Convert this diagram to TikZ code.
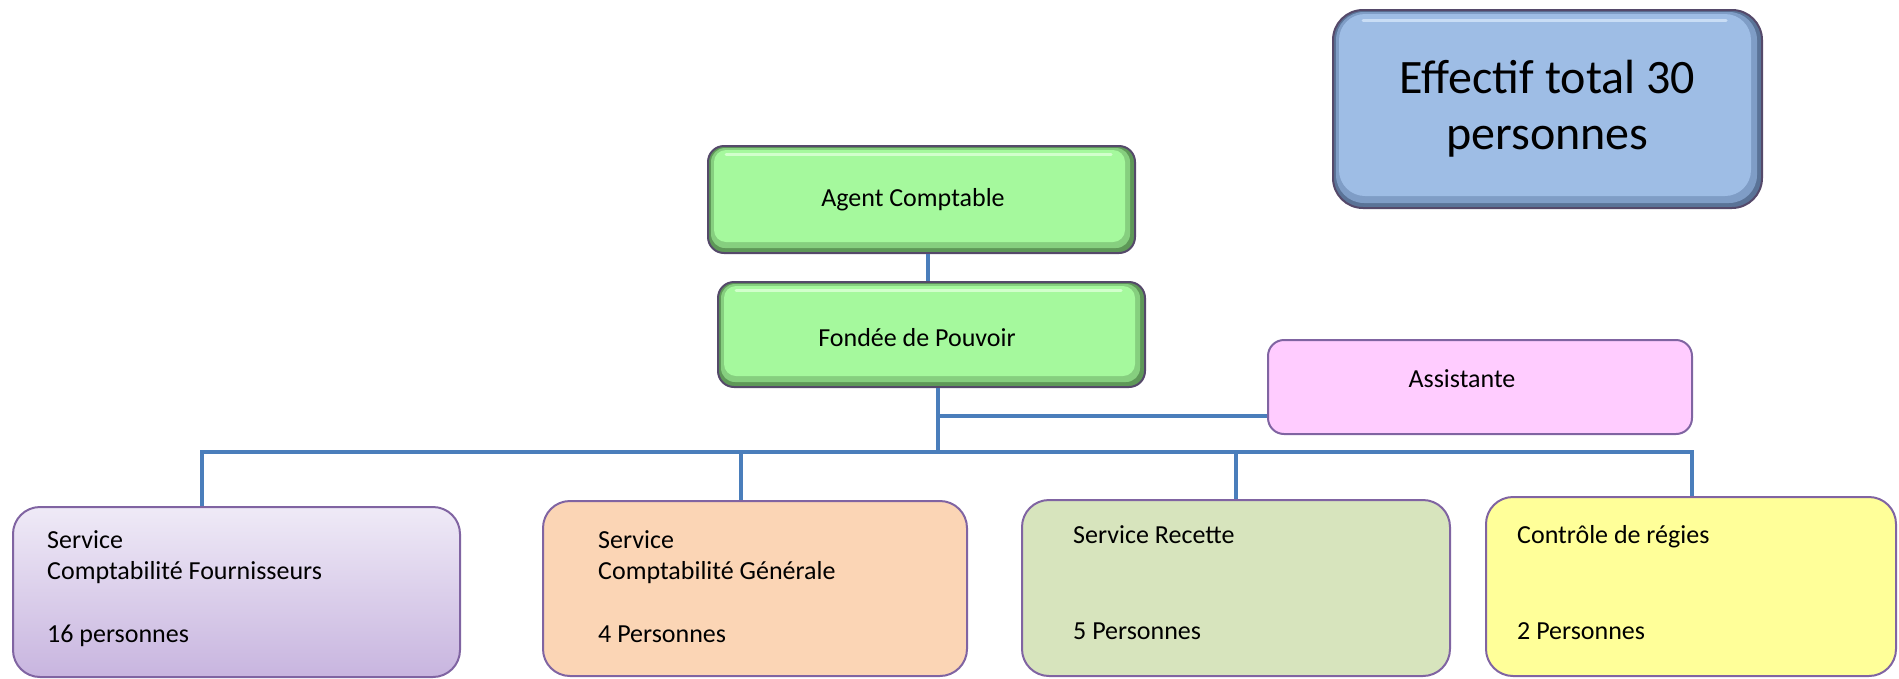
\documentclass[tikz,border=0pt]{standalone}
\usepackage{fontspec}
\setmainfont{Carlito}
\definecolor{linkblue}{HTML}{4A7EBB}
\definecolor{boxpurple}{HTML}{8064A2}
\definecolor{bevelline}{HTML}{55496A}
\definecolor{gdark}{HTML}{5E9858}
\definecolor{gmid}{HTML}{86CF7F}
\definecolor{gmain}{HTML}{A5F99D}
\definecolor{ghigh}{HTML}{D2FFCC}
\definecolor{bdark}{HTML}{5A7397}
\definecolor{bmid}{HTML}{7F9DC6}
\definecolor{bmain}{HTML}{9EBDE5}
\definecolor{bhigh}{HTML}{C9DDF5}
\definecolor{lavtop}{HTML}{EFEAF7}
\definecolor{lavbot}{HTML}{C8B5DF}
\definecolor{peach}{HTML}{FBD5B5}
\definecolor{sage}{HTML}{D7E4BD}
\definecolor{lemon}{HTML}{FFFF99}
\definecolor{pink}{HTML}{FFCCFF}
\tikzset{
  conn/.style={draw=linkblue, line width=4pt},
  flatbox/.style={draw=boxpurple, line width=2pt, rounded corners=27pt, inner sep=0pt},
  gbox/.style={rounded corners=16pt, draw=bevelline, line width=2pt, fill=gdark, inner sep=0pt,
    path picture={
      \fill[gmid, rounded corners=14pt] ([shift={(3pt,-2pt)}]path picture bounding box.north west) rectangle ([shift={(-5pt,5pt)}]path picture bounding box.south east);
      \fill[gmain, rounded corners=12pt] ([shift={(6pt,-4pt)}]path picture bounding box.north west) rectangle ([shift={(-10pt,11pt)}]path picture bounding box.south east);
      \draw[ghigh, line width=3pt, line cap=round] ([shift={(18pt,-8pt)}]path picture bounding box.north west) -- ([shift={(-24pt,-8pt)}]path picture bounding box.north east);
    }},
  bbox/.style={rounded corners=30pt, draw=bevelline, line width=2pt, fill=bdark, inner sep=0pt,
    path picture={
      \fill[bmid, rounded corners=28pt] ([shift={(3pt,-2pt)}]path picture bounding box.north west) rectangle ([shift={(-5pt,5pt)}]path picture bounding box.south east);
      \fill[bmain, rounded corners=26pt] ([shift={(6pt,-4pt)}]path picture bounding box.north west) rectangle ([shift={(-11pt,12pt)}]path picture bounding box.south east);
      \draw[bhigh, line width=3pt, line cap=round] ([shift={(30pt,-10pt)}]path picture bounding box.north west) -- ([shift={(-36pt,-10pt)}]path picture bounding box.north east);
    }},
  small/.style={font=\fontsize{26}{31.5}\selectfont},
  lbl/.style={small, inner sep=0pt},
  blocktext/.style={small, inner sep=0pt, anchor=north west, align=left},
}
\begin{document}
\begin{tikzpicture}[x=1pt,y=-1pt]
\useasboundingbox (0,0) rectangle (1899,678);

% summary box
\node[bbox, minimum width=429pt, minimum height=198pt, align=center,
      font=\fontsize{48}{56}\selectfont] (total) at (1547.5,109) {Effectif total 30\\personnes};

% hierarchy
\node[gbox, minimum width=427pt, minimum height=107pt] (agent) at (921.5,199.5) {};
\node[lbl, anchor=base] (agentT) at (913,206) {Agent Comptable};
\node[gbox, minimum width=427pt, minimum height=105pt] (fondee) at (931.5,334.5) {};
\node[lbl, anchor=base] (fondeeT) at (917,346) {Fondée de Pouvoir};
\node[flatbox, rounded corners=16pt, fill=pink, minimum width=424pt, minimum height=94pt] (assist) at (1480,387) {};
\node[lbl, anchor=base] (assistT) at (1462,387) {Assistante};

% services
\node[flatbox, top color=lavtop, bottom color=lavbot, minimum width=447pt, minimum height=170pt] (s1) at (236.5,592) {};
\node[blocktext] (s1T) at (47,526) {\strut Service\\Comptabilité Fournisseurs\\[31.5pt]16 personnes};
\node[flatbox, fill=peach, minimum width=424pt, minimum height=175pt] (s2) at (755,588.5) {};
\node[blocktext] (s2T) at (598,526) {\strut Service\\Comptabilité Générale\\[31.5pt]4 Personnes};
\node[flatbox, fill=sage, minimum width=428pt, minimum height=176pt] (s3) at (1236,588) {};
\node[blocktext] (s3T) at (1073,521) {\strut Service Recette\\[64.5pt]5 Personnes};
\node[flatbox, fill=lemon, minimum width=410pt, minimum height=179pt] (s4) at (1691,586.5) {};
\node[blocktext] (s4T) at (1517,521) {\strut Contrôle de régies\\[64.5pt]2 Personnes};

% helper coordinates
\coordinate (x1) at (928,0);
\coordinate (x2) at (938,0);
\coordinate (busy) at (0,452);
\coordinate (assy) at (0,416);
\coordinate (d1) at (202,0);
\coordinate (d2) at (741,0);
\coordinate (d3) at (1236,0);
\coordinate (d4) at (1692,0);

% connectors
\draw[conn] (agent.south -| x1) -- (fondee.north -| x1);
\draw[conn] (fondee.south -| x2) -- (x2 |- busy);
\draw[conn] (x2 |- assy) -- (assist.west |- assy);
\draw[conn] (s1.north -| d1) -- (d1 |- busy) -- (d4 |- busy) -- (s4.north -| d4);
\draw[conn] (d2 |- busy) -- (s2.north -| d2);
\draw[conn] (d3 |- busy) -- (s3.north -| d3);
\end{tikzpicture}
\end{document}
